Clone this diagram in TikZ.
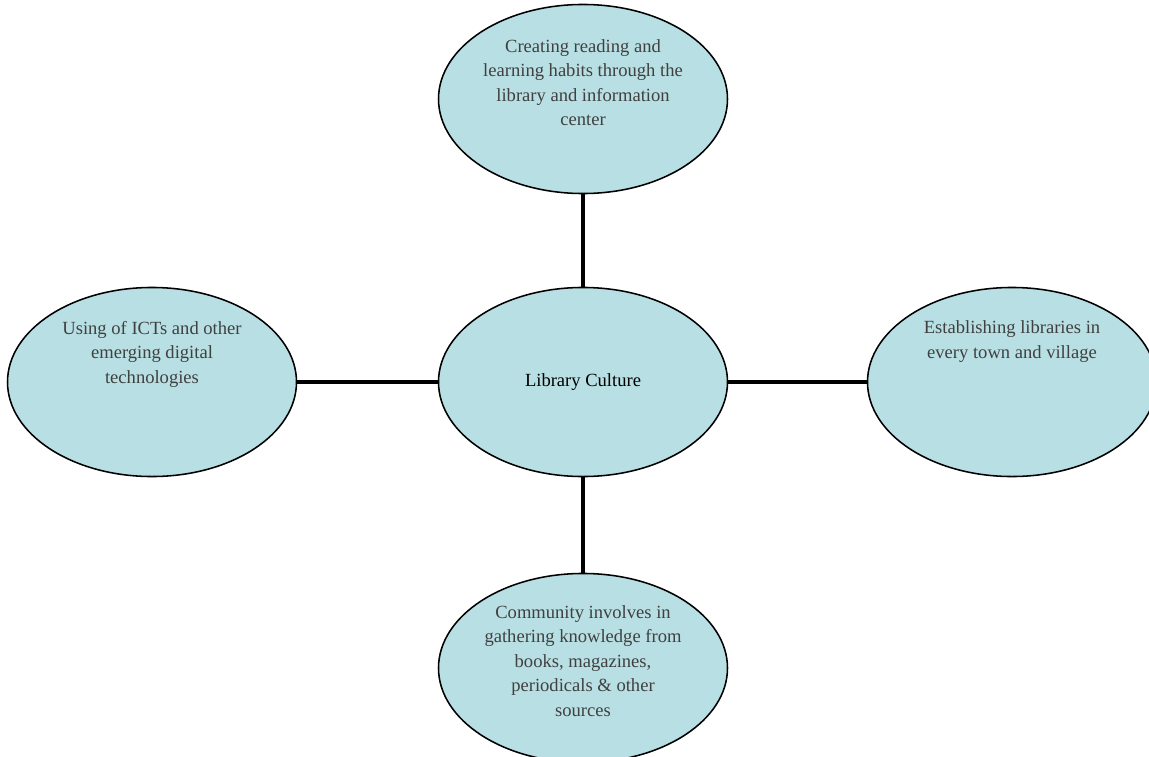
\documentclass[tikz,border=0pt]{standalone}
\usepackage{fontspec}
\setmainfont{Liberation Serif}
\usepackage{tikz}
\usetikzlibrary{shapes.geometric, positioning}
\definecolor{BubbleColor}{RGB}{184,223,227}
\definecolor{TextColor}{RGB}{64,64,64}
\tikzstyle{bubble} = [ellipse, draw=black, line width=1pt, fill=BubbleColor, minimum width=186.8pt, minimum height=122.2pt, inner sep=0pt]
\tikzstyle{label} = [align=center, inner sep=0pt, text=TextColor, font=\fontsize{12}{15.8}\selectfont]
\tikzstyle{link} = [line width=3.2pt, black]

\begin{document}
\begin{tikzpicture}[x=0.6464pt, y=-0.6464pt]
    \useasboundingbox (0,0) rectangle (1149,757);

    \node[bubble] (hub) at (583,382) {};
    \node[bubble] (habits) at (583,99) {};
    \node[bubble] (icts) at (152,382) {};
    \node[bubble] (towns) at (1012,382) {};
    \node[bubble] (community) at (583,668) {};

    \node[label, text=black] (hubtext) at (hub.center) {Library Culture};
    \node[label, below=23pt of habits.north] (habitstext) {Creating reading and\\learning habits through the\\library and information\\center};
    \node[label, below=22pt of icts.north] (ictstext) {Using of ICTs and other\\emerging digital\\technologies};
    \node[label, below=22pt of towns.north] (townstext) {Establishing libraries in\\every town and village};
    \node[label, below=21pt of community.north] (communitytext) {Community involves in\\gathering knowledge from\\books, magazines,\\periodicals \& other\\sources};

    \draw[link] (hub.north) -- (habits.south);
    \draw[link] (hub.south) -- (community.north);
    \draw[link] (hub.west) -- (icts.east);
    \draw[link] (hub.east) -- (towns.west);
\end{tikzpicture}
\end{document}
